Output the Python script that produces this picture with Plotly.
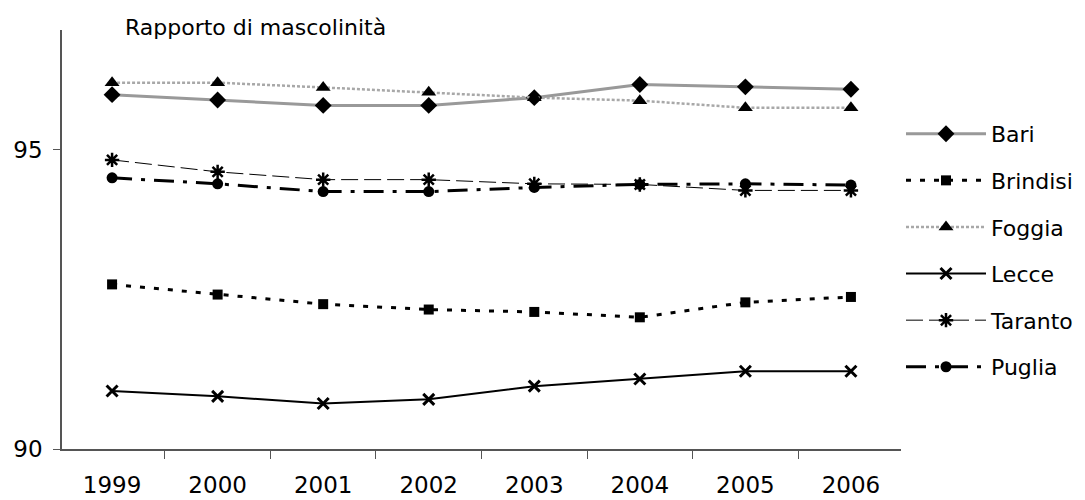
import plotly.graph_objects as go

years = ["1999", "2000", "2001", "2002", "2003", "2004", "2005", "2006"]
bari = [95.92, 95.83, 95.74, 95.74, 95.87, 96.09, 96.05, 96.01]
brindisi = [92.75, 92.58, 92.42, 92.33, 92.29, 92.20, 92.45, 92.54]
foggia = [96.12, 96.12, 96.04, 95.96, 95.87, 95.82, 95.70, 95.70]
lecce = [90.97, 90.88, 90.76, 90.83, 91.05, 91.17, 91.30, 91.30]
taranto = [94.83, 94.63, 94.50, 94.50, 94.43, 94.42, 94.32, 94.32]
puglia = [94.53, 94.43, 94.30, 94.30, 94.37, 94.42, 94.43, 94.41]
y_ticks = [90, 95]
title_text = "Rapporto di mascolinità"

FONT = "DejaVu Sans, Liberation Sans, Arial, sans-serif"

series = [
    ("Bari", bari, dict(color="#999999", width=3, dash="solid"),
     dict(symbol="diamond", size=13, color="black")),
    ("Brindisi", brindisi, dict(color="black", width=3, dash="5px,9px"),
     dict(symbol="square", size=10, color="black")),
    ("Foggia", foggia, dict(color="#a8a8a8", width=2.5, dash="3px,2px"),
     dict(symbol="triangle-up", size=13, color="black")),
    ("Lecce", lecce, dict(color="black", width=2, dash="solid"),
     dict(symbol="x-thin", size=11, color="black", line=dict(width=3, color="black"))),
    ("Taranto", taranto, dict(color="black", width=1, dash="17px,6px"),
     dict(symbol="asterisk", size=12, color="black", line=dict(width=2.5, color="black"))),
    ("Puglia", puglia, dict(color="black", width=3, dash="20px,9px,4px,9px"),
     dict(symbol="circle", size=11, color="black")),
]

fig = go.Figure()
for i, (name, vals, line, marker) in enumerate(series):
    fig.add_trace(go.Scatter(
        x=years, y=vals, name=name, mode="lines+markers",
        line=line, marker=marker, legendgroup=f"g{i}",
    ))

fig.update_layout(
    width=1085, height=500,
    margin=dict(l=62, r=184, t=30, b=51, autoexpand=False),
    paper_bgcolor="white", plot_bgcolor="white",
    font=dict(family=FONT, color="black", size=22),
    showlegend=True,
    legend=dict(
        x=1.0, xanchor="left", y=0.802, yanchor="top",
        font=dict(family=FONT, size=22, color="black"),
        itemwidth=80, tracegroupgap=15, bgcolor="rgba(0,0,0,0)",
    ),
    annotations=[dict(
        text=title_text, x=0.0727, y=1.007, xref="paper", yref="paper",
        xanchor="left", yanchor="middle", showarrow=False,
        font=dict(family=FONT, size=22, color="black"),
    )],
)
fig.update_xaxes(
    type="category", tickson="boundaries", ticks="outside", ticklen=8,
    tickcolor="#555", showline=True, linecolor="#555", linewidth=1.5,
    showgrid=False, zeroline=False, tickfont=dict(size=23), ticklabelstandoff=15,
    automargin=False,
)
fig.update_yaxes(
    range=[90, 97], tickvals=y_ticks, ticks="outside", ticklen=7,
    tickcolor="#555", showline=True, linecolor="#555", linewidth=1.5,
    showgrid=False, zeroline=False, tickfont=dict(size=23), ticklabelstandoff=6,
    automargin=False,
)

fig.write_html("out.html")
